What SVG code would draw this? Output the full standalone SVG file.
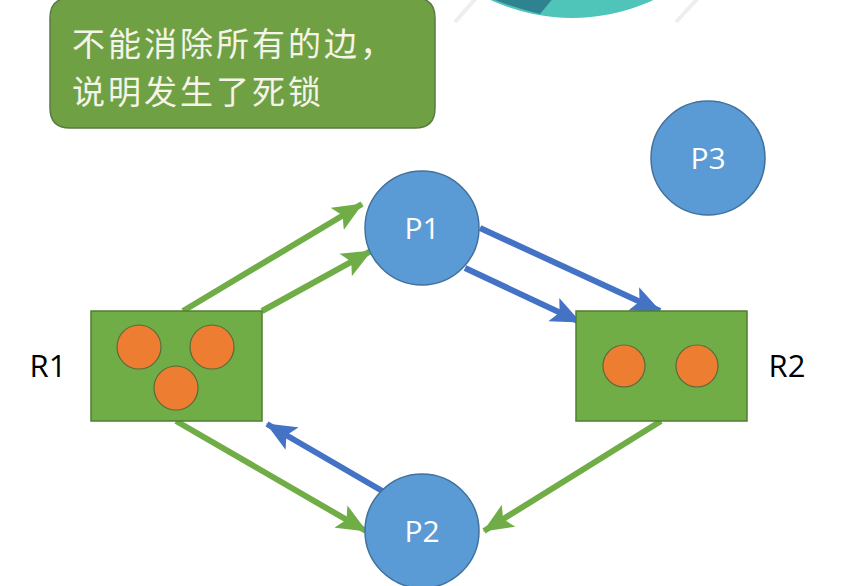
<svg xmlns="http://www.w3.org/2000/svg" width="849" height="586" viewBox="0 0 849 586">
<defs>
<style>
.proc{fill:#5b9bd5;stroke:#41719c;stroke-width:1.5}
.res{fill:#70ad47;stroke:#507e32;stroke-width:1.5}
.dot{fill:#ed7d31;stroke:#5a6a3a;stroke-width:1.2}
.plabel{font-family:"Open Sans","Liberation Sans",sans-serif;font-size:30px;fill:#ffffff;text-anchor:middle}
.rlabel{font-family:"Open Sans","Liberation Sans",sans-serif;font-size:31px;fill:#000000;text-anchor:middle}
.g{stroke:#70ad47;stroke-width:6;fill:none}
.b{stroke:#4472c4;stroke-width:6;fill:none}
.note{font-family:"Noto Sans CJK SC","Noto Sans CJK JP",sans-serif;font-size:33px;letter-spacing:3px;fill:#f4f4e8}
</style>
<marker id="ag" markerUnits="userSpaceOnUse" markerWidth="30" markerHeight="26" refX="27" refY="12" orient="auto" viewBox="0 0 28 24">
<path d="M0,0 L28,12 L0,24 L6,12 Z" fill="#70ad47"/>
</marker>
<marker id="ab" markerUnits="userSpaceOnUse" markerWidth="30" markerHeight="26" refX="27" refY="12" orient="auto" viewBox="0 0 28 24">
<path d="M0,0 L28,12 L0,24 L6,12 Z" fill="#4472c4"/>
</marker>
<clipPath id="top"><rect x="0" y="0" width="849" height="40"/></clipPath>
</defs>
<rect width="849" height="586" fill="#ffffff"/>
<g id="deco" clip-path="url(#top)">
<line x1="455" y1="22" x2="478" y2="-4" stroke="#eeeeee" stroke-width="4"/>
<line x1="676" y1="22" x2="700" y2="-4" stroke="#eeeeee" stroke-width="4"/>
<circle cx="572" cy="-175" r="193" fill="#4ec5b8"/>
<path d="M485,-10 L560,-10 L540,14 Q515,8 495,0 Z" fill="#2f8391"/>
</g>
<g id="callout">
<path d="M70,-2 L290,-2 L300,-20 L340,-20 L350,-2 L415,-2 Q435,-2 435,18 L435,108 Q435,128 415,128 L70,128 Q50,128 50,108 L50,18 Q50,-2 70,-2 Z" fill="#70a044" stroke="#5a7a45" stroke-width="1.5"/>
<text class="note" x="72" y="56">不能消除所有的边，</text>
<text class="note" x="72" y="104">说明发生了死锁</text>
</g>
<g id="connectors">
<line class="g" x1="183" y1="311" x2="362" y2="204" marker-end="url(#ag)"/>
<line class="g" x1="262" y1="311" x2="371" y2="251" marker-end="url(#ag)"/>
<line class="b" x1="480" y1="228" x2="660" y2="311" marker-end="url(#ab)"/>
<line class="b" x1="465" y1="268" x2="580" y2="322" marker-end="url(#ab)"/>
<line class="g" x1="661" y1="421" x2="484" y2="531" marker-end="url(#ag)"/>
<line class="g" x1="176" y1="421" x2="366" y2="531" marker-end="url(#ag)"/>
<line class="b" x1="384" y1="492" x2="267" y2="424" marker-end="url(#ab)"/>
</g>
<g id="R1">
<rect class="res" x="91" y="311" width="171" height="110"/>
<circle class="dot" cx="139" cy="347" r="22"/>
<circle class="dot" cx="212" cy="347" r="22"/>
<circle class="dot" cx="176" cy="388" r="22"/>
<text class="rlabel" x="48" y="377">R1</text>
</g>
<g id="R2">
<rect class="res" x="576" y="311" width="171" height="110"/>
<circle class="dot" cx="624" cy="366" r="21"/>
<circle class="dot" cx="697" cy="366" r="21"/>
<text class="rlabel" x="787" y="377">R2</text>
</g>
<g id="P1">
<circle class="proc" cx="422" cy="228" r="57"/>
<text class="plabel" x="422" y="239">P1</text>
</g>
<g id="P2">
<circle class="proc" cx="422" cy="531" r="57"/>
<text class="plabel" x="422" y="542">P2</text>
</g>
<g id="P3">
<circle class="proc" cx="708" cy="158" r="57"/>
<text class="plabel" x="708" y="169">P3</text>
</g>
</svg>
